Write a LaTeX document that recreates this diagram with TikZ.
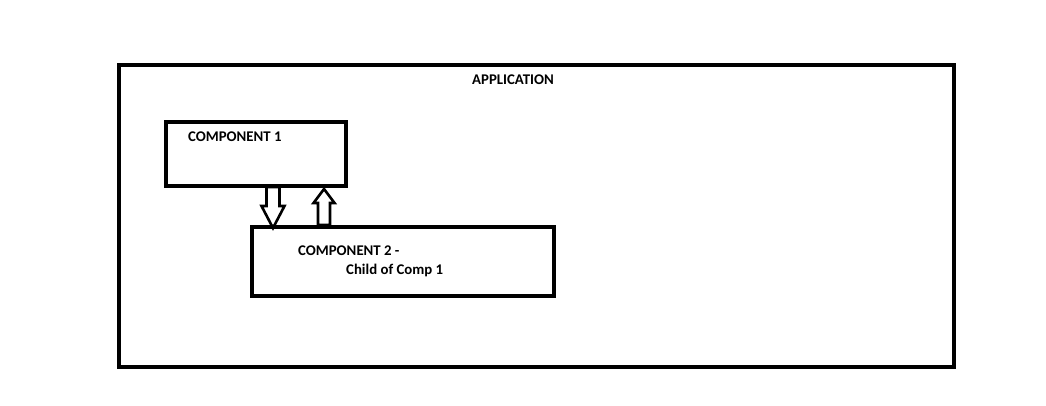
\documentclass[tikz,border=0pt]{standalone}
\usepackage{fontspec}
\setmainfont{Carlito}
\begin{document}
\begin{tikzpicture}[x=1pt,y=-1pt,
  box/.style={draw=black,line width=4pt,fill=white,inner sep=0pt,outer sep=0pt,anchor=north west},
  lbl/.style={font=\bfseries\fontsize{14.8}{18}\selectfont,inner sep=0pt,anchor=base west},
  blockarrow/.style={draw=black,line width=2.6pt,fill=white,line join=miter}]
\useasboundingbox (0,0) rectangle (1046,406);
\fill[white] (0,0) rectangle (1046,406);
\node[box,minimum width=835pt,minimum height=302pt] (app) at (119,65) {};
\node[lbl] (apptxt) at (472,85) {APPLICATION};
\node[box,minimum width=180pt,minimum height=64pt] (c1) at (166,122) {};
\node[lbl] (c1txt) at (188,142) {COMPONENT 1};
\node[box,minimum width=302pt,minimum height=69pt] (c2) at (252,227) {};
\node[lbl] (c2txt) at (298,255) {COMPONENT 2 -};
\node[lbl] (c2txt2) at (346,274) {Child of Comp 1};
% down arrow: from COMPONENT 1 to COMPONENT 2
\draw[blockarrow] (266.5,187) -- (279.5,187) -- (279.5,206) -- (284.5,206) -- (273,228) -- (261.5,206) -- (266.5,206) -- cycle;
% up arrow: from COMPONENT 2 to COMPONENT 1
\draw[blockarrow] (318,225) -- (330,225) -- (330,203) -- (334.5,203) -- (324,189) -- (313.5,203) -- (318,203) -- cycle;
\end{tikzpicture}
\end{document}
